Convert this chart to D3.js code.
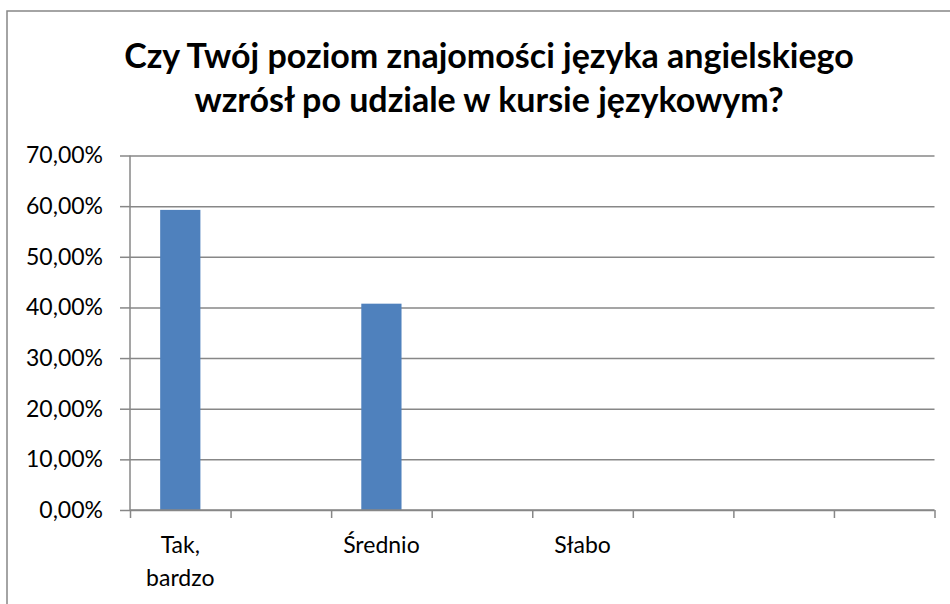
<!DOCTYPE html>
<html>
<head>
<meta charset="utf-8">
<script src="https://cdn.jsdelivr.net/npm/d3@7"></script>
<style>
  body { margin: 0; background: #fff; }
  svg { display: block; font-family: Lato, "Open Sans", sans-serif; }
</style>
</head>
<body>
<svg width="950" height="604"></svg>
<script>
// data (every second category label is hidden by Excel)
const categories = ['Tak, bardzo', '', 'Średnio', '', 'Słabo', '', '', ''];
const values = [0.5926, 0, 0.4074, 0, 0, 0, 0, 0];
const yTicks = [0, 0.1, 0.2, 0.3, 0.4, 0.5, 0.6, 0.7];
const titleLines = ['Czy Twój poziom znajomości języka angielskiego', 'wzrósł po udziale w kursie językowym?'];

const svg = d3.select('svg');
const margin = { left: 130, top: 155.5, right: 15.5, bottom: 94 };
const inner = { x: 950 - margin.left - margin.right, y: 604 - margin.top - margin.bottom };

// chart frame (runs off the right and bottom edge)
svg.append('rect')
  .attr('x', 7).attr('y', 11)
  .attr('width', 1000).attr('height', 700)
  .attr('fill', 'none')
  .attr('stroke', '#878787')
  .attr('stroke-width', 1.5);

// title
svg.append('g').selectAll('text')
  .data(titleLines)
  .enter()
  .append('text')
  .attr('x', 489)
  .attr('y', (d, i) => 68 + i * 44)
  .attr('text-anchor', 'middle')
  .style('font-size', '34px')
  .style('font-weight', 'bold')
  .attr('fill', '#000')
  .text(d => d);

const idx = categories.map((d, i) => i);
const x = d3.scaleBand().domain(idx).range([0, inner.x]).paddingInner(0.6).paddingOuter(0.3);
const slots = d3.scaleLinear().domain([0, categories.length]).range([0, inner.x]);
const y = d3.scaleLinear().domain([0, 0.7]).range([inner.y, 0]);

const g = svg.append('g').attr('transform', 'translate(' + margin.left + ',' + margin.top + ')');

// gridlines
g.append('g')
  .call(d3.axisLeft(y).tickValues(yTicks).tickSize(-inner.x).tickFormat(''))
  .call(a => a.select('.domain').remove())
  .selectAll('line')
  .attr('stroke', '#878787')
  .attr('stroke-width', 1.5);

// bars
g.append('g').selectAll('rect')
  .data(idx.filter(i => values[i] > 0))
  .enter()
  .append('rect')
  .attr('x', i => x(i))
  .attr('width', x.bandwidth())
  .attr('y', i => y(values[i]))
  .attr('height', i => inner.y - y(values[i]))
  .attr('fill', '#4F81BD');

// y axis
const loc = d3.formatLocale({ decimal: ',', thousands: ' ', grouping: [3], currency: ['', ''] });
const pct = loc.format('.2%');
const yAxis = g.append('g')
  .call(d3.axisLeft(y).tickValues(yTicks).tickSize(10).tickPadding(17).tickFormat(pct))
  .attr('font-family', null)
  .attr('font-size', null);
yAxis.select('.domain').attr('stroke', '#878787').attr('stroke-width', 1.5).attr('d', 'M0,0V' + inner.y);
yAxis.selectAll('line').attr('stroke', '#878787').attr('stroke-width', 1.5);
yAxis.selectAll('text').style('font-size', '23px').attr('fill', '#000');

// x axis with ticks between categories
const xAxis = g.append('g')
  .attr('transform', 'translate(0,' + inner.y + ')')
  .call(d3.axisBottom(slots).ticks(categories.length).tickSize(8).tickFormat(''));
xAxis.select('.domain').attr('stroke', '#878787').attr('stroke-width', 1.5).attr('d', 'M0,0H' + inner.x);
xAxis.selectAll('line').attr('stroke', '#878787').attr('stroke-width', 1.5);

// category labels (wrap after comma)
g.append('g').selectAll('text')
  .data(idx)
  .enter()
  .append('text')
  .attr('text-anchor', 'middle')
  .attr('transform', i => 'translate(' + (x(i) + x.bandwidth() / 2) + ',' + (inner.y + 43) + ')')
  .style('font-size', '23px')
  .attr('fill', '#000')
  .each(function (i) {
    const parts = categories[i].split(', ');
    parts.forEach((p, k) => {
      d3.select(this).append('tspan')
        .attr('x', 0)
        .attr('y', k * 33)
        .text(p + (k < parts.length - 1 ? ',' : ''));
    });
  });
</script>
</body>
</html>
